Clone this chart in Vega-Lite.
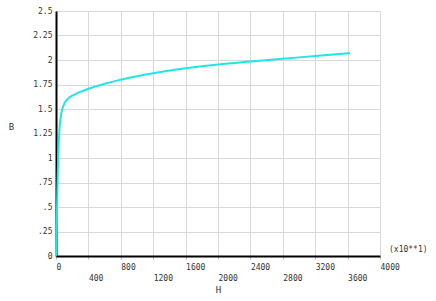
{
  "$schema": "https://vega.github.io/schema/vega-lite/v6.json",
  "autosize": "none",
  "width": 324,
  "height": 245,
  "padding": {"left": 56, "top": 11, "right": 56, "bottom": 45},
  "background": "white",
  "config": {
    "view": {"stroke": null},
    "font": "DejaVu Sans Mono",
    "axis": {
      "labelFont": "DejaVu Sans Mono",
      "titleFont": "DejaVu Sans Mono",
      "labelFontSize": 8,
      "titleFontSize": 9,
      "titleFontWeight": "normal",
      "labelColor": "#333333",
      "titleColor": "#333333",
      "gridColor": "#d8d8d8",
      "gridWidth": 1,
      "domainColor": "#000000",
      "domainWidth": 2
    }
  },
  "encoding": {
    "x": {
      "field": "H", "type": "quantitative",
      "scale": {"domain": [0, 4000], "nice": false, "zero": false},
      "axis": {
        "title": "H",
        "values": [0, 400, 800, 1200, 1600, 2000, 2400, 2800, 3200, 3600, 4000],
        "labelAlign": "left",
        "labelBaseline": "top",
        "labelPadding": {"condition": {"test": "datum.value % 800 != 0", "value": 15}, "value": 4},
        "ticks": true,
        "tickSize": 3,
        "tickColor": "#bbbbbb",
        "labelFlush": false,
        "labelOverlap": false,
        "format": "d",
        "titleAnchor": "middle",
        "titleBaseline": "middle",
        "titleY": 33,
        "titlePadding": 0
      }
    },
    "y": {
      "field": "B", "type": "quantitative",
      "scale": {"domain": [0, 2.5], "nice": false, "zero": false},
      "axis": {
        "title": "B",
        "values": [0, 0.25, 0.5, 0.75, 1, 1.25, 1.5, 1.75, 2, 2.25, 2.5],
        "labelExpr": "datum.value > 0 && datum.value < 1 ? substring(datum.value + '', 1) : datum.value + ''",
        "ticks": false,
        "labelPadding": 4,
        "labelFlush": false,
        "labelOverlap": false,
        "titleAngle": 0,
        "titleAlign": "center",
        "titleBaseline": "middle",
        "titleX": -45,
        "titleY": 115
      }
    }
  },
  "data": {
    "values": [
      {"H": 0, "B": 0},
      {"H": 5, "B": 0.18},
      {"H": 10, "B": 0.38},
      {"H": 15, "B": 0.58},
      {"H": 20, "B": 0.78},
      {"H": 26, "B": 0.98},
      {"H": 33, "B": 1.14},
      {"H": 42, "B": 1.28},
      {"H": 55, "B": 1.4},
      {"H": 78, "B": 1.5},
      {"H": 105, "B": 1.56},
      {"H": 135, "B": 1.595},
      {"H": 170, "B": 1.62},
      {"H": 215, "B": 1.642},
      {"H": 300, "B": 1.675},
      {"H": 400, "B": 1.707},
      {"H": 600, "B": 1.757},
      {"H": 800, "B": 1.8},
      {"H": 1000, "B": 1.835},
      {"H": 1200, "B": 1.865},
      {"H": 1600, "B": 1.915},
      {"H": 2000, "B": 1.955},
      {"H": 2400, "B": 1.985},
      {"H": 2800, "B": 2.013},
      {"H": 3200, "B": 2.04},
      {"H": 3630, "B": 2.07}
    ]
  },
  "layer": [
    {
      "mark": {"type": "line", "color": "#1fe6e6", "strokeWidth": 2, "interpolate": "monotone"}
    },
    {
      "data": {"values": [{"H": 4000, "B": 0, "note": "(x10**1)"}]},
      "mark": {"type": "text", "align": "left", "baseline": "middle", "dx": 9, "dy": -6, "font": "DejaVu Sans Mono", "fontSize": 8, "color": "#333333"},
      "encoding": {
        "text": {"field": "note"}
      }
    }
  ]
}
